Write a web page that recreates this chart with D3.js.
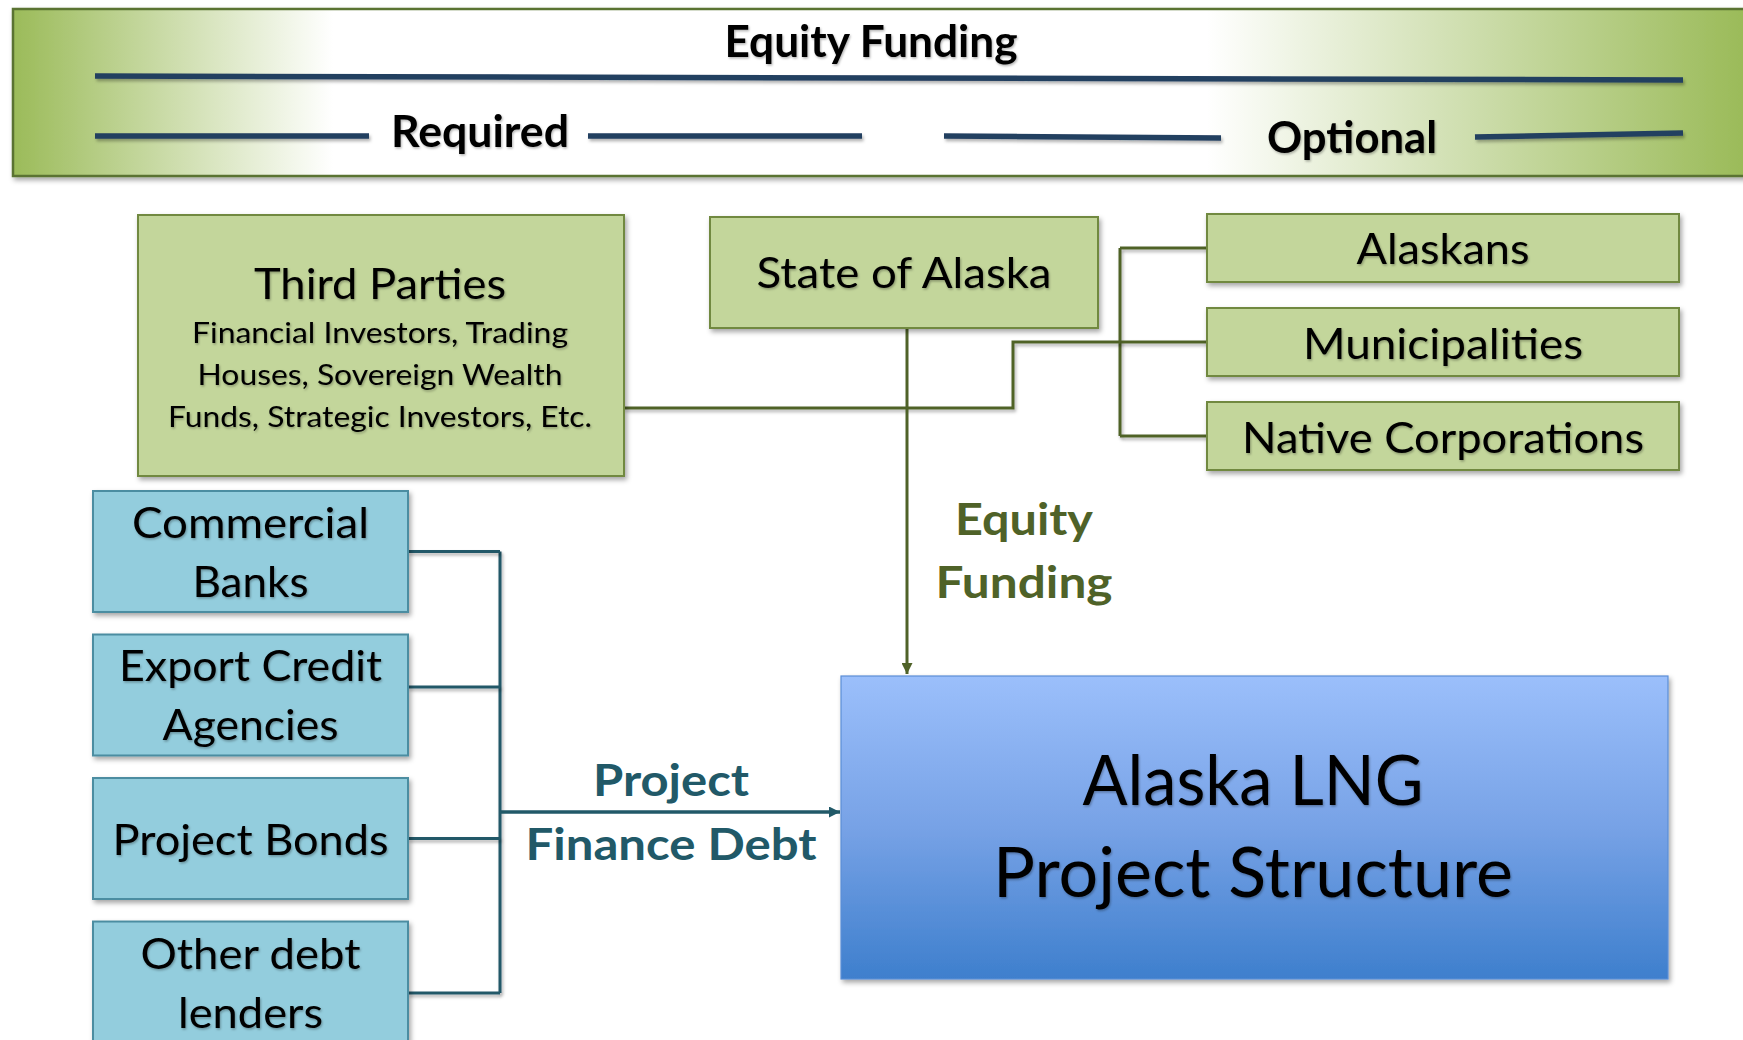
<!DOCTYPE html>
<html>
<head>
<meta charset="utf-8">
<script src="https://cdn.jsdelivr.net/npm/d3@7"></script>
<style>
  body { margin: 0; background: #fff; }
  svg { display: block; }
</style>
</head>
<body>
<div id="chart"></div>
<script>
// ---- labels ----
const bannerTitle = "Equity Funding";
const bannerGroups = ["Required", "Optional"];
const thirdPartyTitle = "Third Parties";
const thirdPartyLines = ["Financial Investors, Trading", "Houses, Sovereign Wealth", "Funds, Strategic Investors, Etc."];
const stateLabel = "State of Alaska";
const optionalSources = ["Alaskans", "Municipalities", "Native Corporations"];
const debtSources = [["Commercial", "Banks"], ["Export Credit", "Agencies"], ["Project Bonds"], ["Other debt", "lenders"]];
const equityLabel = ["Equity", "Funding"];
const debtLabel = ["Project", "Finance Debt"];
const projectLabel = ["Alaska LNG", "Project Structure"];

// width each label takes in the original slide (Calibri is narrower than what we have)
const fitW = {
  "Equity Funding": 293, "Required": 178, "Optional": 170,
  "Third Parties": 252, "Financial Investors, Trading": 376,
  "Houses, Sovereign Wealth": 365, "Funds, Strategic Investors, Etc.": 424,
  "State of Alaska": 295, "Alaskans": 173, "Municipalities": 280, "Native Corporations": 402,
  "Commercial": 237, "Banks": 116, "Export Credit": 263, "Agencies": 176,
  "Project Bonds": 276, "Other debt": 220, "lenders": 145,
  "Equity": 138, "Funding": 177, "Project": 156, "Finance Debt": 291,
  "Alaska LNG": 341, "Project Structure": 520
};

const W = 1743, H = 1040;
const FONT = "Lato, 'Open Sans', sans-serif";
const green = "#4f6228", teal = "#215968", navy = "#243f60";

const svg = d3.select("#chart").append("svg")
  .attr("width", W)
  .attr("height", H);

const defs = svg.append("defs");

function dropShadow(id, dx, dy, sd, op) {
  const f = defs.append("filter").attr("id", id)
    .attr("filterUnits", "userSpaceOnUse")
    .attr("x", -50).attr("y", -50).attr("width", W + 100).attr("height", H + 100);
  f.append("feDropShadow")
    .attr("dx", dx).attr("dy", dy).attr("stdDeviation", sd)
    .attr("flood-color", "#000").attr("flood-opacity", op);
}
dropShadow("shadow", 2, 3, 2.5, 0.35);
dropShadow("lineShadow", 1.5, 2.5, 1.5, 0.3);
dropShadow("textShadow", 1, 1.5, 1, 0.3);

// banner gradient: green edges fading to white
const bannerGrad = defs.append("linearGradient").attr("id", "bannerGrad")
  .attr("gradientUnits", "userSpaceOnUse")
  .attr("x1", 13).attr("x2", W).attr("y1", 0).attr("y2", 0);
[[0, "#9bbb59"], [0.185, "#ffffff"], [0.69, "#ffffff"], [1, "#9bbb59"]].forEach(s =>
  bannerGrad.append("stop").attr("offset", s[0]).attr("stop-color", s[1]));

const lngGrad = defs.append("linearGradient").attr("id", "lngGrad")
  .attr("x1", 0).attr("x2", 0).attr("y1", 0).attr("y2", 1);
[[0, "#9bbffb"], [0.5, "#77a2e6"], [1, "#3e7fcd"]].forEach(s =>
  lngGrad.append("stop").attr("offset", s[0]).attr("stop-color", s[1]));

function arrowMarker(id, color) {
  defs.append("marker").attr("id", id)
    .attr("viewBox", "0 0 10 10")
    .attr("refX", 10).attr("refY", 5)
    .attr("markerUnits", "userSpaceOnUse")
    .attr("markerWidth", 11).attr("markerHeight", 11)
    .attr("orient", "auto")
    .append("path").attr("d", "M0,0L10,5L0,10z").attr("fill", color);
}
arrowMarker("arrowGreen", green);
arrowMarker("arrowTeal", teal);

// text helper, squeezed to the original width
function label(parent, str, x, y, size, opts = {}) {
  const t = parent.append("text")
    .attr("x", x).attr("y", y)
    .attr("text-anchor", "middle")
    .style("font-family", FONT)
    .style("font-size", size + "px")
    .style("font-weight", opts.bold ? 700 : 400)
    .attr("fill", opts.fill || "#000")
    .text(str);
  if (opts.shadow !== false) t.attr("filter", "url(#textShadow)");
  if (fitW[str]) t.attr("textLength", fitW[str]).attr("lengthAdjust", "spacingAndGlyphs");
  return t;
}

const line = d3.line();

// ---- top banner ----
svg.append("rect")
  .attr("x", 13).attr("y", 9)
  .attr("width", W + 20).attr("height", 167)
  .attr("fill", "url(#bannerGrad)")
  .attr("stroke", "#5a7332").attr("stroke-width", 2.5)
  .attr("filter", "url(#shadow)");

const bannerRules = [
  [[95, 76], [1683, 80]],
  [[95, 136], [369, 136]],
  [[588, 136], [862, 136]],
  [[944, 136], [1221, 138]],
  [[1475, 137], [1683, 133]]
];
svg.append("g").selectAll("path")
  .data(bannerRules)
  .join("path")
  .attr("d", d => line(d))
  .attr("stroke", navy)
  .attr("stroke-width", 5.5)
  .attr("fill", "none")
  .attr("filter", "url(#lineShadow)");

label(svg, bannerTitle, 871, 57, 43, { bold: true });
const groupX = d3.scaleOrdinal().domain(bannerGroups).range([480, 1352]);
const groupY = d3.scaleOrdinal().domain(bannerGroups).range([147, 153]);
bannerGroups.forEach(gname => label(svg, gname, groupX(gname), groupY(gname), 43, { bold: true }));

// ---- connectors (drawn under boxes) ----
const conn = svg.append("g").attr("fill", "none");

const optX = 1207, optW = 472;
const optY = d3.scaleBand().domain(optionalSources).range([214, 470]).paddingInner(0.2766);
const optMid = d => optY(d) + optY.bandwidth() / 2;

const debtX = 93, debtW = 315;
const debtY = d3.scaleBand().domain(debtSources.map(d => d.join(" "))).range([491, 1042.5]).paddingInner(0.157);
// the taps don't sit exactly on each box's middle in the slide
const debtTapShift = [0, -8, 0, 11];
const debtMid = d => debtY(d.join(" ")) + debtY.bandwidth() / 2;
const debtTap = (d, i) => debtMid(d) + debtTapShift[i];

// optional sources bracket
const optBus = 1120;
conn.append("path")
  .attr("d", line([[optBus, optMid(optionalSources[0])], [optBus, optMid(optionalSources[optionalSources.length - 1])]]))
  .attr("stroke", green).attr("stroke-width", 3).attr("filter", "url(#lineShadow)");
conn.selectAll(".optTap")
  .data(optionalSources)
  .join("path")
  .attr("class", "optTap")
  .attr("d", d => line([[optBus, optMid(d)], [optX, optMid(d)]]))
  .attr("stroke", green).attr("stroke-width", 3).attr("filter", "url(#lineShadow)");

// third parties -> optional bracket
conn.append("path")
  .attr("d", line([[624, 408], [1013, 408], [1013, optMid(optionalSources[1])], [optBus, optMid(optionalSources[1])]]))
  .attr("stroke", green).attr("stroke-width", 3).attr("filter", "url(#lineShadow)");

// state -> project (equity)
conn.append("path")
  .attr("d", line([[907, 328], [907, 674]]))
  .attr("stroke", green).attr("stroke-width", 3)
  .attr("marker-end", "url(#arrowGreen)");

// debt bracket
const debtBus = 500;
const lastDebt = debtSources.length - 1;
conn.append("path")
  .attr("d", line([[debtBus, debtTap(debtSources[0], 0)], [debtBus, debtTap(debtSources[lastDebt], lastDebt)]]))
  .attr("stroke", teal).attr("stroke-width", 3).attr("filter", "url(#lineShadow)");
conn.selectAll(".debtTap")
  .data(debtSources)
  .join("path")
  .attr("class", "debtTap")
  .attr("d", (d, i) => line([[debtX + debtW, debtTap(d, i)], [debtBus, debtTap(d, i)]]))
  .attr("stroke", teal).attr("stroke-width", 3).attr("filter", "url(#lineShadow)");
conn.append("path")
  .attr("d", line([[debtBus, 812], [840, 812]]))
  .attr("stroke", teal).attr("stroke-width", 3.5)
  .attr("marker-end", "url(#arrowTeal)");

// ---- green equity boxes ----
const greenBox = { fill: "#c3d69b", stroke: "#71893f" };

svg.append("rect")
  .attr("x", 138).attr("y", 215).attr("width", 486).attr("height", 261)
  .attr("fill", greenBox.fill).attr("stroke", greenBox.stroke).attr("stroke-width", 2)
  .attr("filter", "url(#shadow)");
label(svg, thirdPartyTitle, 380, 299, 43);
thirdPartyLines.forEach((s, i) => label(svg, s, 380, 343 + i * 42, 28));

svg.append("rect")
  .attr("x", 710).attr("y", 217).attr("width", 388).attr("height", 111)
  .attr("fill", greenBox.fill).attr("stroke", greenBox.stroke).attr("stroke-width", 2)
  .attr("filter", "url(#shadow)");
label(svg, stateLabel, 904, 288, 43);

const optG = svg.append("g").selectAll("g")
  .data(optionalSources)
  .join("g");
optG.append("rect")
  .attr("x", optX).attr("y", d => optY(d))
  .attr("width", optW).attr("height", optY.bandwidth())
  .attr("fill", greenBox.fill).attr("stroke", greenBox.stroke).attr("stroke-width", 2)
  .attr("filter", "url(#shadow)");
optG.each(function (d) {
  label(d3.select(this), d, optX + optW / 2, optMid(d) + 16.5, 43);
});

// ---- blue debt boxes ----
const debtG = svg.append("g").selectAll("g")
  .data(debtSources)
  .join("g");
debtG.append("rect")
  .attr("x", debtX).attr("y", d => debtY(d.join(" ")))
  .attr("width", debtW).attr("height", debtY.bandwidth())
  .attr("fill", "#93cddd").attr("stroke", "#4b8da1").attr("stroke-width", 2)
  .attr("filter", "url(#shadow)");
debtG.each(function (d) {
  const g = d3.select(this);
  const y0 = debtMid(d) + 16 - (d.length - 1) * 59 / 2;
  d.forEach((s, i) => label(g, s, debtX + debtW / 2, y0 + i * 59, 43));
});

// ---- flow labels ----
equityLabel.forEach((s, i) => label(svg, s, 1024, 535 + i * 63, 44, { bold: true, fill: green, shadow: false }));
debtLabel.forEach((s, i) => label(svg, s, 671, 796 + i * 64, 44, { bold: true, fill: teal, shadow: false }));

// ---- project box ----
svg.append("rect")
  .attr("x", 841).attr("y", 676).attr("width", 827).attr("height", 303)
  .attr("fill", "url(#lngGrad)")
  .attr("stroke", "#5b8ed6").attr("stroke-width", 1.2)
  .attr("filter", "url(#shadow)");
projectLabel.forEach((s, i) => label(svg, s, 1253, 805 + i * 92, 70));
</script>
</body>
</html>
